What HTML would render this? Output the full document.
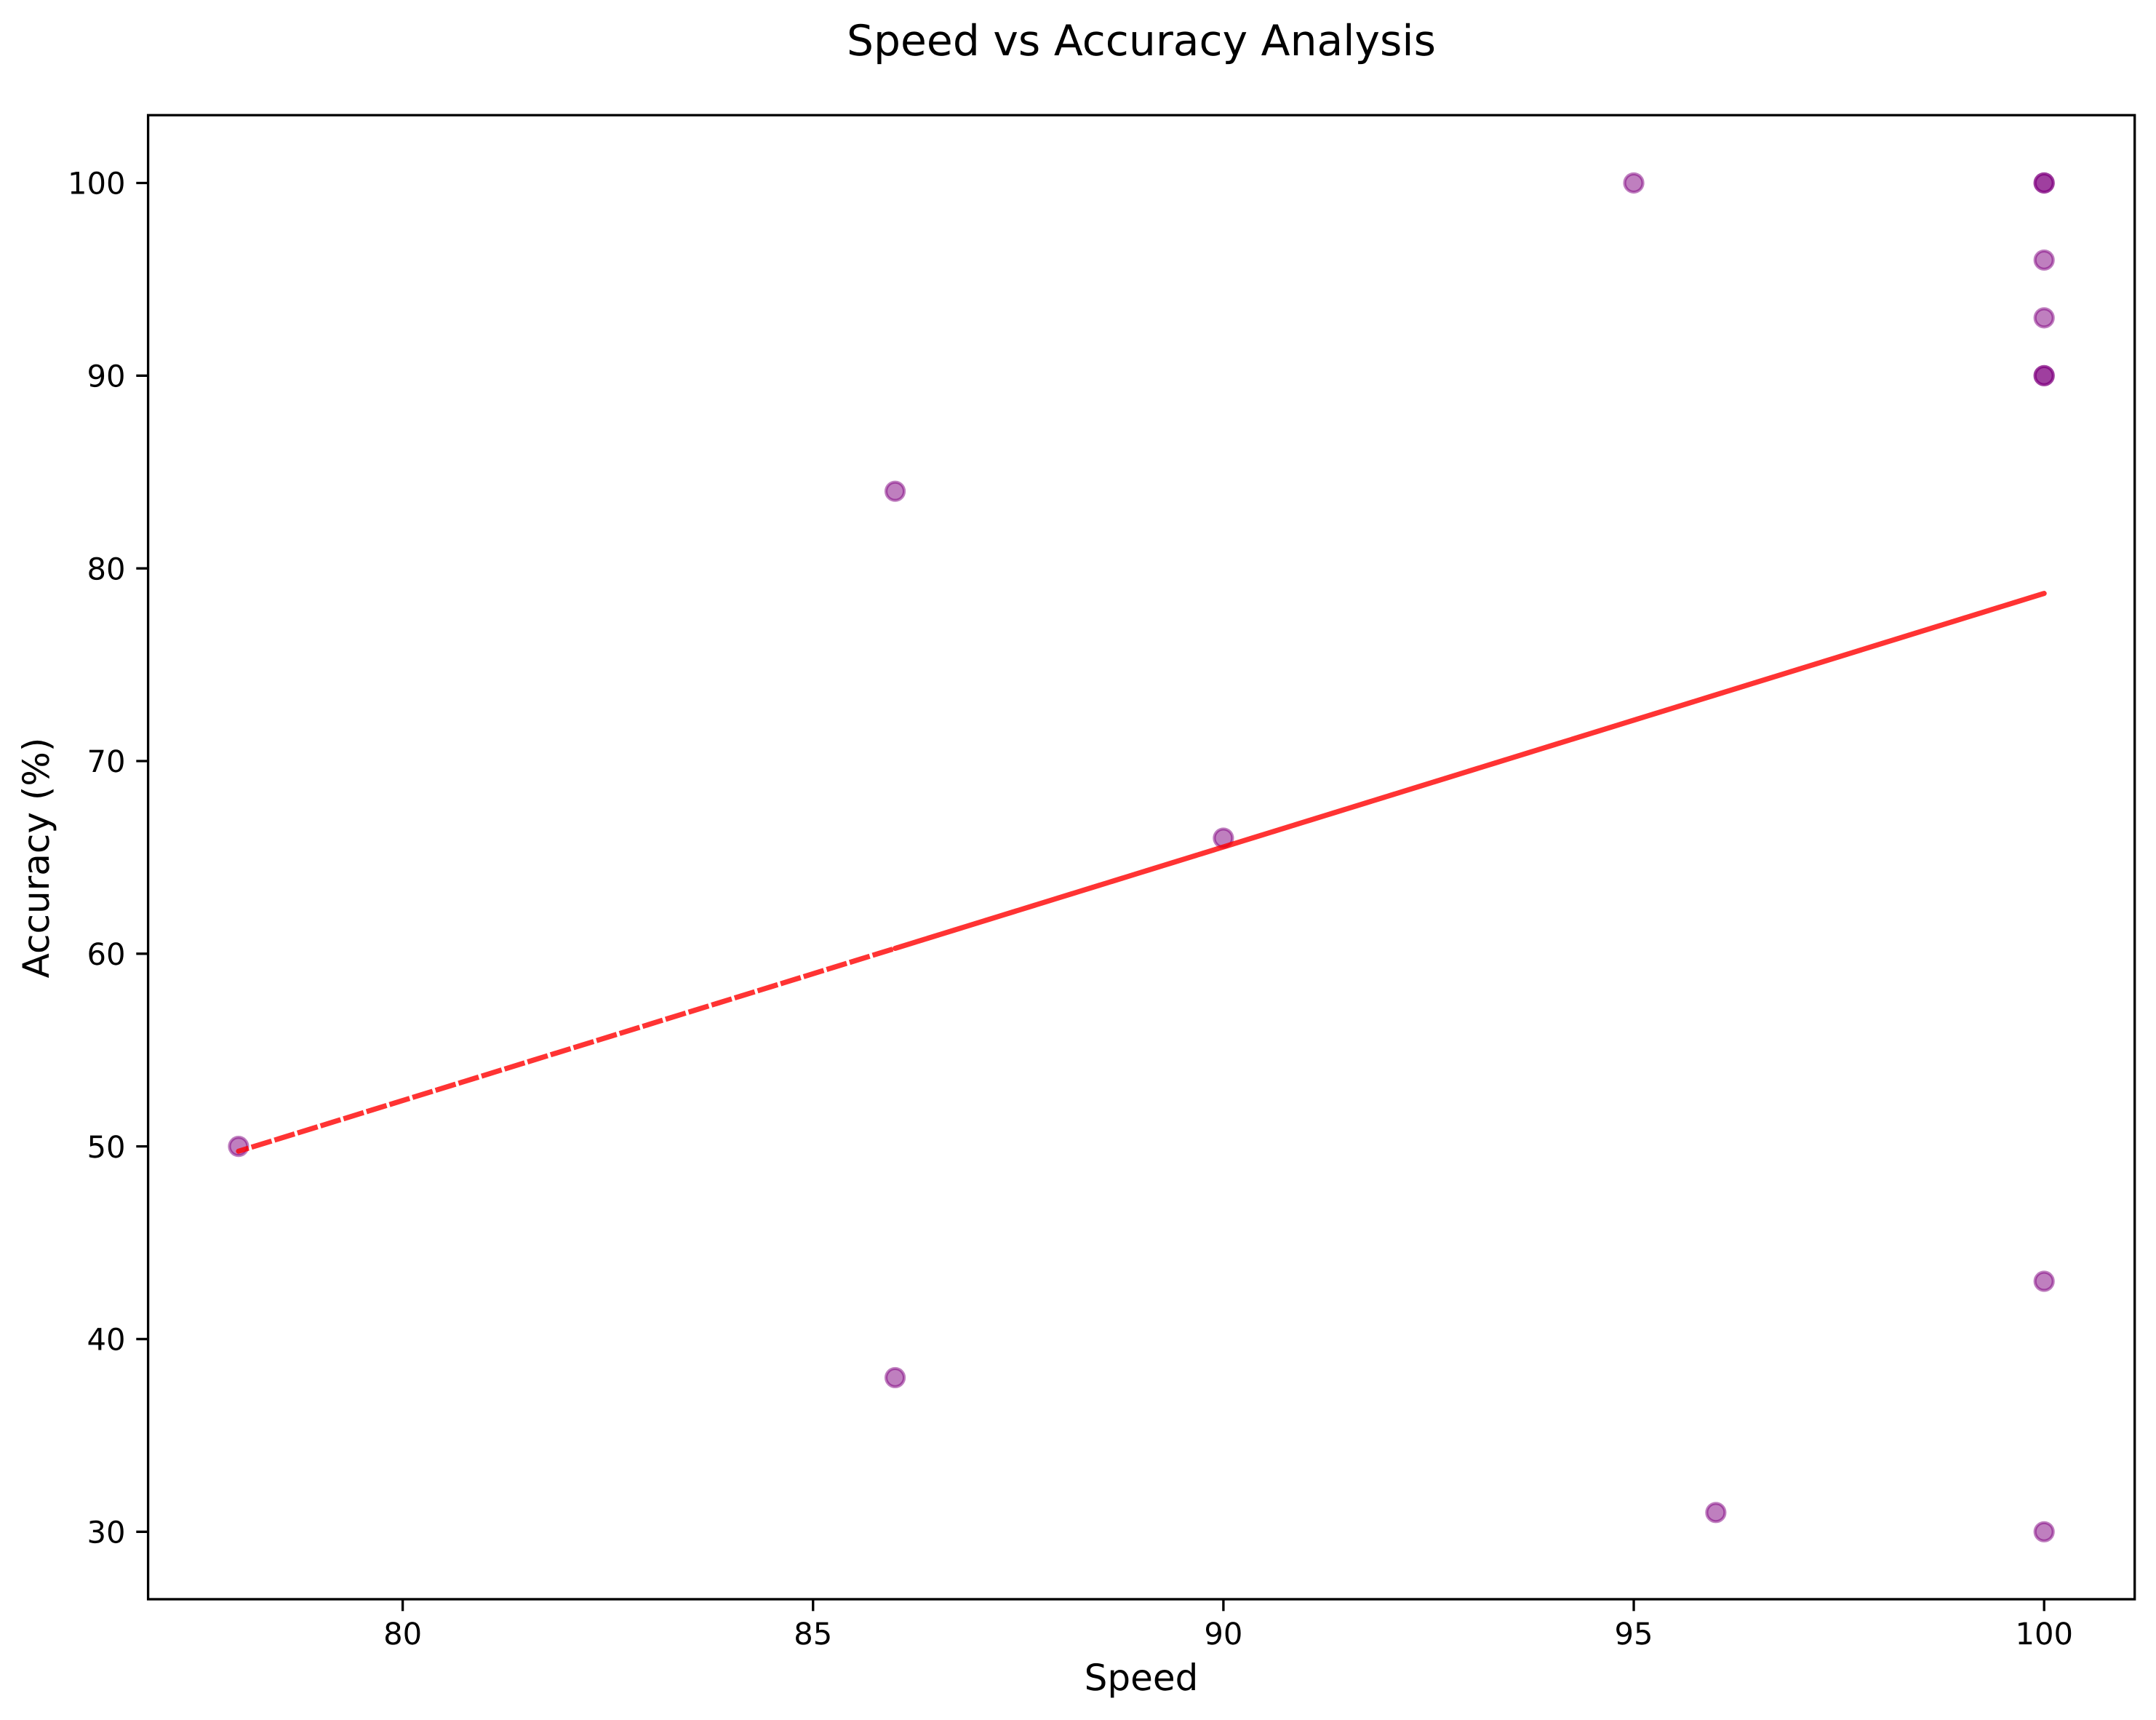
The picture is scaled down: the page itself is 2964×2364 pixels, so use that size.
<!DOCTYPE html>
<html lang="en">
<head>
<meta charset="utf-8">
<title>Speed vs Accuracy Analysis</title>
<style>
  html, body { margin: 0; padding: 0; background: #ffffff; }
  svg { display: block; }
  text { font-family: "DejaVu Sans", "Liberation Sans", sans-serif; fill: #000000; text-rendering: geometricPrecision; }
</style>
</head>
<body>
<svg id="chart" xmlns="http://www.w3.org/2000/svg" width="2964" height="2364" viewBox="0 0 2964 2364">
  <rect x="0" y="0" width="2964" height="2364" fill="#ffffff"/>
  <g id="points"></g>
  <g id="trend"></g>
  <g id="x-ticks"></g>
  <g id="y-ticks"></g>
  <rect x="203.6" y="158.3" width="2731.1" height="2039.7" fill="none" stroke="#000000" stroke-width="3.33"/>
  <text x="1569" y="76" font-size="58.33" text-anchor="middle">Speed vs Accuracy Analysis</text>
  <text x="1569" y="2323" font-size="50" text-anchor="middle">Speed</text>
  <text x="0" y="0" font-size="50" text-anchor="middle" transform="translate(67 1179) rotate(-90)">Accuracy (%)</text>
</svg>
<script>
const speedValues = [100, 95, 86, 100, 96, 100, 90, 100, 86, 78, 100, 100, 100, 100];
const accuracyValues = [100, 100, 84, 96, 31, 93, 66, 90, 38, 50, 100, 90, 43, 30];
const xTickValues = [80, 85, 90, 95, 100];
const yTickValues = [30, 40, 50, 60, 70, 80, 90, 100];

const SVG_NS = 'http://www.w3.org/2000/svg';

function xScale(v) { return 553.6 + (v - 80) * 112.83; }
function yScale(v) { return 2105.3 - (v - 30) * 26.483; }

const pointsLayer = document.getElementById('points');
const trendLayer = document.getElementById('trend');
const xTickLayer = document.getElementById('x-ticks');
const yTickLayer = document.getElementById('y-ticks');

speedValues.forEach(function (s, i) {
  const c = document.createElementNS(SVG_NS, 'circle');
  
  
  c.setAttribute('cx', xScale(s));
  c.setAttribute('cy', yScale(accuracyValues[i]));
  c.setAttribute('r', 12.5);
  c.setAttribute('fill', '#800080');
  c.setAttribute('fill-opacity', 0.5);
  c.setAttribute('stroke', '#800080');
  c.setAttribute('stroke-opacity', 0.5);
  c.setAttribute('stroke-width', 4.17);
  pointsLayer.appendChild(c);
});

// Least-squares trend through the data, evaluated at each point in plot order
const n = speedValues.length;
const meanX = speedValues.reduce(function (a, b) { return a + b; }, 0) / n;
const meanY = accuracyValues.reduce(function (a, b) { return a + b; }, 0) / n;
let sxy = 0;
let sxx = 0;
speedValues.forEach(function (s, i) {
  sxy += (s - meanX) * (accuracyValues[i] - meanY);
  sxx += (s - meanX) * (s - meanX);
});
const slope = sxy / sxx;
const intercept = meanY - slope * meanX;

const trendCoords = speedValues.map(function (s) {
  return [xScale(s), yScale(slope * s + intercept)];
});

// Align the dash pattern so the lowest-speed vertex falls at the chosen phase
const dashOn = 23.1;
const dashOff = 10;
const dashPeriod = dashOn + dashOff;
const turnPhase = 14.5;
const minSpeedIndex = speedValues.indexOf(Math.min.apply(null, speedValues));
let distanceToTurn = 0;
for (let i = 1; i <= minSpeedIndex; i++) {
  distanceToTurn += Math.hypot(trendCoords[i][0] - trendCoords[i - 1][0], trendCoords[i][1] - trendCoords[i - 1][1]);
}
const dashOffset = ((turnPhase - distanceToTurn) % dashPeriod + dashPeriod) % dashPeriod;

const trendLine = document.createElementNS(SVG_NS, 'polyline');


trendLine.setAttribute('points', trendCoords.map(function (p) { return p[0].toFixed(2) + ',' + p[1].toFixed(2); }).join(' '));
trendLine.setAttribute('fill', 'none');
trendLine.setAttribute('stroke', '#ff0000');
trendLine.setAttribute('stroke-opacity', 0.8);
trendLine.setAttribute('stroke-width', 7.1);
trendLine.setAttribute('stroke-linejoin', 'round');
trendLine.setAttribute('stroke-dasharray', dashOn + ' ' + dashOff);
trendLine.setAttribute('stroke-dashoffset', dashOffset);
trendLayer.appendChild(trendLine);

xTickValues.forEach(function (v) {
  const mark = document.createElementNS(SVG_NS, 'line');
  
  
  mark.setAttribute('x1', xScale(v));
  mark.setAttribute('x2', xScale(v));
  mark.setAttribute('y1', 2198);
  mark.setAttribute('y2', 2214.3);
  mark.setAttribute('stroke', '#000000');
  mark.setAttribute('stroke-width', 3.33);
  xTickLayer.appendChild(mark);

  const label = document.createElementNS(SVG_NS, 'text');
  
  
  label.setAttribute('x', xScale(v));
  label.setAttribute('y', 2260);
  label.setAttribute('font-size', 41.67);
  label.setAttribute('text-anchor', 'middle');
  label.textContent = String(v);
  xTickLayer.appendChild(label);
});

yTickValues.forEach(function (v) {
  const mark = document.createElementNS(SVG_NS, 'line');
  
  
  mark.setAttribute('x1', 187.3);
  mark.setAttribute('x2', 203.6);
  mark.setAttribute('y1', yScale(v));
  mark.setAttribute('y2', yScale(v));
  mark.setAttribute('stroke', '#000000');
  mark.setAttribute('stroke-width', 3.33);
  yTickLayer.appendChild(mark);

  const label = document.createElementNS(SVG_NS, 'text');
  
  
  label.setAttribute('x', 172.5);
  label.setAttribute('y', yScale(v) + 15.2);
  label.setAttribute('font-size', 41.67);
  label.setAttribute('text-anchor', 'end');
  label.textContent = String(v);
  yTickLayer.appendChild(label);
});
</script>
</body>
</html>
